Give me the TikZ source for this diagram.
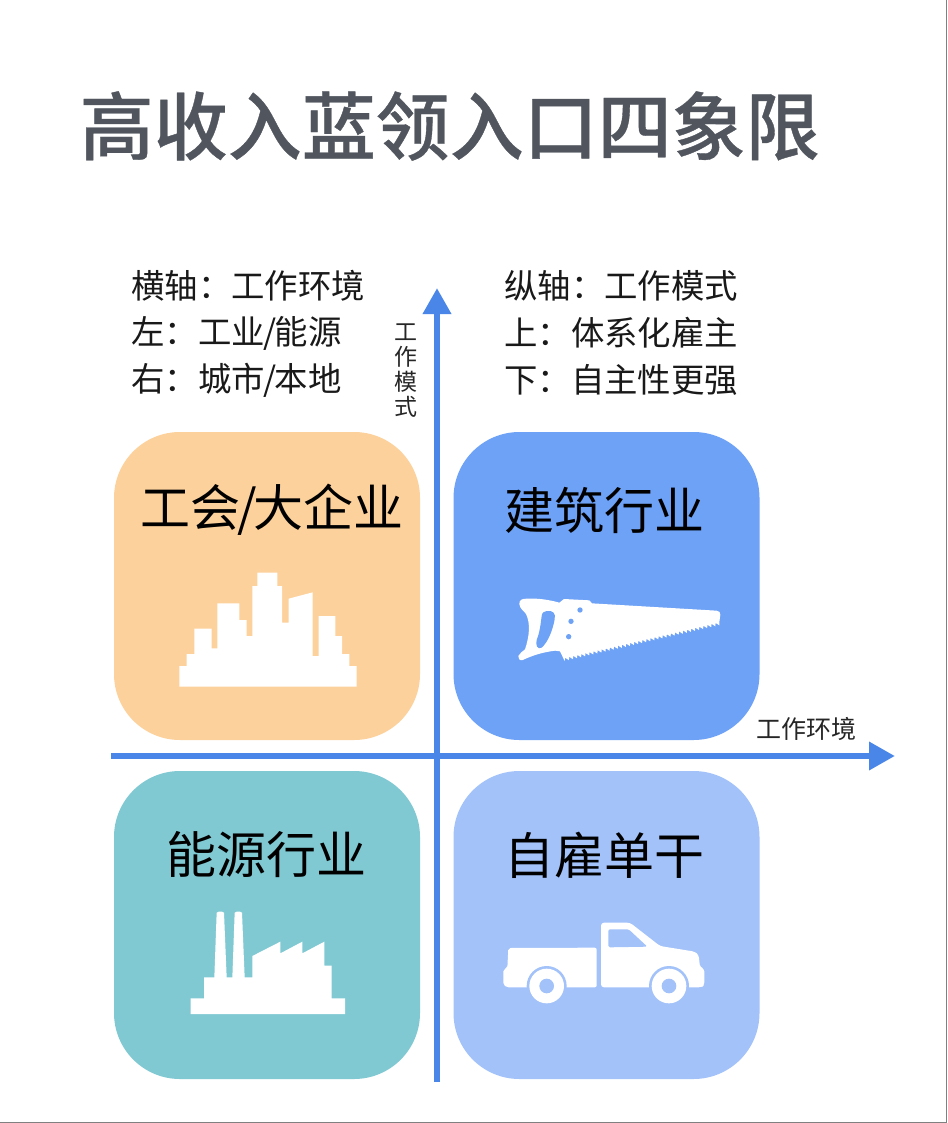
\documentclass[tikz,border=0pt]{standalone}
\usepackage{fontspec}
\setmainfont{Noto Sans CJK SC}
\newfontfamily\titlefont{Noto Sans CJK SC}[UprightFont={* Medium},UprightFeatures={FakeBold=0.5}]
\usetikzlibrary{arrows.meta}
\definecolor{titlegray}{HTML}{50555E}
\definecolor{axisblue}{HTML}{4A86E8}
\definecolor{cardorange}{HTML}{FDD19B}
\definecolor{cardblue}{HTML}{6EA2F6}
\definecolor{cardteal}{HTML}{80C9D3}
\definecolor{cardlight}{HTML}{A2C2F9}
\definecolor{edgegray}{HTML}{808080}
\newcommand{\fwcolon}{\char"FF1A\relax}
\tikzset{
  card/.style={minimum width=306pt,minimum height=308pt,rounded corners=66pt,inner sep=0pt,outer sep=0pt},
  cardtext/.style={inner sep=0pt,text=black,font=\fontsize{50}{50}\selectfont},
  notetext/.style={inner sep=0pt,anchor=west,text=black!90,font=\fontsize{33.4}{33.4}\selectfont},
  axistext/.style={inner sep=0pt,text=black!85,font=\fontsize{25}{25}\selectfont},
  axisline/.style={draw=axisblue,line width=6.5pt,-{Triangle[length=26pt,width=27pt]}},
  icon/.style={fill=white,draw=none},
}
\begin{document}
\begin{tikzpicture}[x=1pt,y=-1pt]
\useasboundingbox (0,0) rectangle (947,1123);
\fill[white] (0,0) rectangle (947,1123);
\draw[edgegray,line width=1.5pt] (946.3,0) -- (946.3,1122.3) -- (0,1122.3);

\node[inner sep=0pt,anchor=west,text=titlegray,font=\titlefont\fontsize{74}{74}\selectfont] (title) at (79.5,126) {高收入蓝领入口四象限};

\node[notetext] (n1) at (131,286) {横轴\fwcolon 工作环境};
\node[notetext] (n2) at (131,333) {左\fwcolon 工业\kern-1.5pt/\kern-1.5pt能源};
\node[notetext] (n3) at (131,380) {右\fwcolon 城市\kern-1.5pt/\kern-1.5pt本地};
\node[notetext] (n4) at (504,286) {纵轴\fwcolon 工作模式};
\node[notetext] (n5) at (504,333) {上\fwcolon 体系化雇主};
\node[notetext] (n6) at (504,380) {下\fwcolon 自主性更强};

\node[card,fill=cardorange] (q1) at (267,586) {};
\node[card,fill=cardblue]   (q2) at (606.5,586) {};
\node[card,fill=cardteal]   (q3) at (267,925) {};
\node[card,fill=cardlight]  (q4) at (606.5,925) {};

\node[cardtext] (t1) at (272,510) {工会\kern-3.5pt/\kern-3.5pt大企业};
\node[cardtext] (t2) at (604,510) {建筑行业};
\node[cardtext] (t3) at (266,855) {能源行业};
\node[cardtext] (t4) at (604,855) {自雇单干};

\coordinate (vs) at (437,1082);
\coordinate (ve) at (437,288);
\coordinate (hs) at (111,756);
\coordinate (he) at (895,756);
\draw[axisline] (vs) -- (ve);
\draw[axisline] (hs) -- (he);

\node[axistext] (ah) at (806,729) {工作环境};
\node[axistext,align=center,font=\fontsize{23}{24.8}\selectfont] (av) at (406,370.5) {工\\作\\模\\式};

% city
\begin{scope}[shift={(150,560)},scale=1/3]
\fill[icon] (88,380)--(88,318)--(110,318)--(110,282)--(133,282)--(133,206)--(185,206)--(185,265)--(202,265)--(202,130)--(268,130)--(268,180)--(290,180)--(290,228)--(307,228)--(307,78)--(322,78)--(322,38)--(382,38)--(382,78)--(396,78)--(396,188)--(416,188)--(416,116)--(488,97)--(488,288)--(506,288)--(506,168)--(556,168)--(556,228)--(576,228)--(576,282)--(598,282)--(598,318)--(620,318)--(620,380)--cycle;
\end{scope}

% saw
\begin{scope}[shift={(500,580)},scale=1/3]
\fill[icon] (58,72) .. controls (58,60) and (65,56) .. (80,56) .. controls (115,54) and (150,60) .. (178,68) -- (192,57) -- (268,61) -- (276,70) -- (650,92) .. controls (658,93) and (661,97) .. (661,104) -- (658,126)
 foreach \i in {0,...,37} { -- ({658-\i*12.2},{136+\i*2.82}) -- ({658-(\i+1)*12.2+1},{126+(\i+1)*2.82}) }
 -- (194,243) -- (180,214) -- (165,212) .. controls (120,218) and (95,228) .. (68,240) .. controls (58,242) and (54,236) .. (55,228) .. controls (58,218) and (68,216) .. (75,208) .. controls (88,170) and (92,130) .. (78,102) .. controls (72,92) and (60,88) .. (58,72) -- cycle;
\fill[cardblue] (140,93) .. controls (158,90) and (168,100) .. (164,118) .. controls (158,150) and (145,185) .. (125,203) .. controls (112,210) and (106,195) .. (110,180) .. controls (120,155) and (122,130) .. (125,108) .. controls (126,98) and (132,94) .. (140,93) -- cycle;
\fill[cardblue] (240,90) circle (8) (213,124) circle (8) (206,170) circle (8);
\end{scope}

% factory
\begin{scope}[shift={(170,900)},scale=1/3]
\fill[icon] (62,342)--(62,295)--(102,295)--(102,232)--(133,232)--(140,38)--(146,35)--(156,35)--(162,38)--(170,232)--(187,232)--(194,38)--(200,35)--(210,35)--(216,38)--(224,232)--(247,232)--(247,168)--(331,125)--(331,160)--(397,125)--(397,160)--(463,125)--(463,197)--(485,197)--(485,295)--(525,295)--(525,342)--cycle;
\end{scope}

% truck
\begin{scope}[shift={(490,910)},scale=1/3]
\fill[icon,rounded corners=2pt] (55,114)--(320,113)--(320,232)--(50,232)--(40,224)--(40,178)--(52,174)--cycle;
\fill[icon,rounded corners=3pt] (333,232)--(333,38)--(420,38)--(510,108)--(615,125)--(626,135)--(630,172)--(643,176)--(643,226)--(634,232)--cycle;
\fill[cardlight,rounded corners=1.5pt] (355,58)--(416,58)--(472,110)--(355,112)--cycle;
\fill[cardlight] (170,228) circle (60) (537,228) circle (60);
\fill[icon] (170,228) circle (52) (537,228) circle (52);
\fill[cardlight] (170,228) circle (22) (537,228) circle (22);
\end{scope}
\end{tikzpicture}
\end{document}
